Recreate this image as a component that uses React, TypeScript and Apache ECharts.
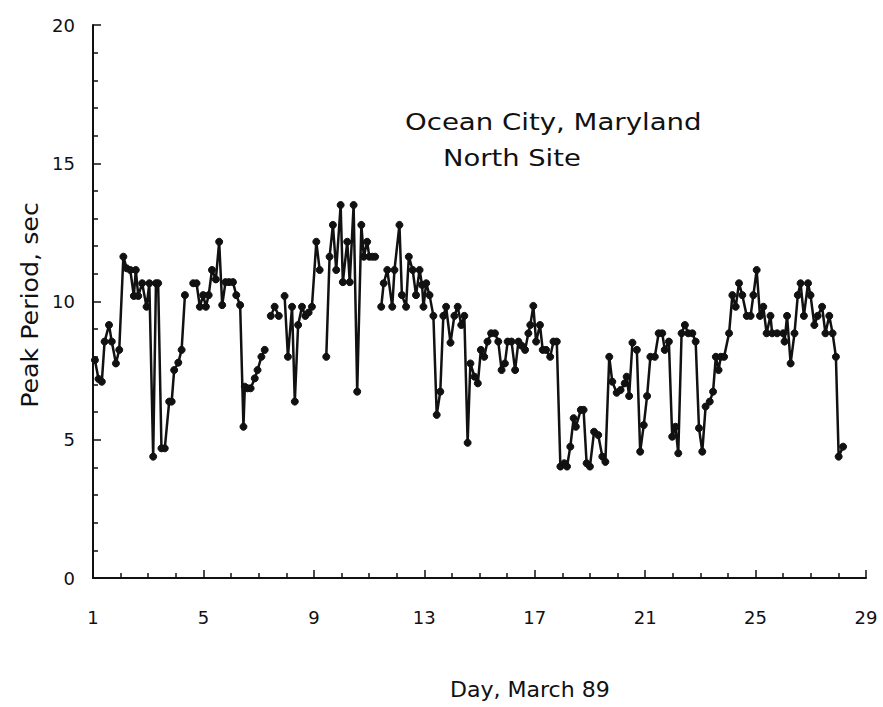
import React, { useEffect, useRef } from "react";
import * as echarts from "echarts";

// Day of March 1989 (null period = gap in the record)
const days = [
  1.07, 1.2, 1.32, 1.42, 1.58, 1.68, 1.83, 1.95, 2.1, 2.22, 2.35, 2.48, 2.55, 2.64, 2.78, 2.94, 3.04, 3.18, 3.28, 3.36, 3.48, 3.6, 3.76, 3.85, 3.94, 4.09, 4.21, 4.33,
  4.5,
  4.63, 4.75, 4.87, 4.99, 5.09, 5.19, 5.31, 5.45, 5.57, 5.68, 5.8, 5.93, 6.07, 6.19, 6.33, 6.45, 6.5, 6.6, 6.71, 6.86, 6.96, 7.1, 7.22,
  7.33,
  7.44, 7.58, 7.73,
  7.85,
  7.94, 8.06, 8.21, 8.31, 8.43, 8.57, 8.69, 8.81, 8.93, 9.09, 9.21,
  9.33,
  9.45, 9.57, 9.69, 9.81, 9.97, 10.05, 10.21, 10.3, 10.44, 10.57, 10.72, 10.81, 10.93, 11.01, 11.12, 11.22,
  11.33,
  11.44, 11.53, 11.66, 11.84, 11.92, 12.1, 12.19, 12.34, 12.44, 12.58, 12.7, 12.83, 12.92, 12.97, 13.07, 13.19, 13.33, 13.45, 13.58, 13.69, 13.79, 13.95,
  14.09, 14.21, 14.34, 14.45, 14.57, 14.67, 14.82, 14.94, 15.05, 15.17, 15.29, 15.42, 15.56, 15.68, 15.8, 15.92, 16.02, 16.16, 16.29, 16.41, 16.53, 16.65,
  16.77, 16.84, 16.95, 17.05, 17.19, 17.29, 17.41, 17.56, 17.68, 17.8, 17.93, 18.07, 18.17, 18.29, 18.41, 18.49, 18.67, 18.77, 18.88, 19.0, 19.15, 19.3,
  19.45, 19.56, 19.7, 19.81, 19.97, 20.11, 20.26, 20.33, 20.42, 20.54,
  20.62,
  20.7, 20.82, 20.95, 21.07, 21.19, 21.35, 21.49, 21.62, 21.71, 21.86, 21.98, 22.1, 22.2, 22.32, 22.44, 22.56, 22.71, 22.83, 22.95, 23.07, 23.19, 23.34,
  23.46, 23.56, 23.66, 23.74, 23.86, 24.04, 24.16, 24.28, 24.4, 24.52, 24.68, 24.82, 24.92, 25.04, 25.16, 25.28, 25.4, 25.54, 25.6, 25.78, 26.0, 26.05,
  26.14, 26.27, 26.41, 26.53, 26.63, 26.75, 26.9, 26.99, 27.13, 27.25, 27.41, 27.53, 27.67, 27.79, 27.91, 28.01, 28.17,
];

// Peak period, sec
const peakPeriod: (number | null)[] = [
  7.88, 7.2, 7.1, 8.55, 9.15, 8.55, 7.76, 8.25, 11.62, 11.2, 11.14, 10.2, 11.14, 10.2, 10.66, 9.81, 10.66, 4.39, 10.66, 10.66, 4.69, 4.69, 6.38, 6.38, 7.52, 7.79, 8.25, 10.23,
  null,
  10.66, 10.66, 9.81, 10.23, 9.81, 10.23, 11.14, 10.8, 12.16, 9.87, 10.7, 10.7, 10.7, 10.23, 9.87, 5.47, 6.92, 6.86, 6.86, 7.22, 7.52, 8.0, 8.25,
  null,
  9.48, 9.81, 9.48,
  null,
  10.2, 8.0, 9.81, 6.38, 9.15, 9.81, 9.48, 9.6, 9.81, 12.16, 11.14,
  null,
  8.0, 11.62, 12.77, 11.14, 13.49, 10.7, 12.16, 10.7, 13.49, 6.74, 12.77, 11.62, 12.16, 11.62, 11.62, 11.62,
  null,
  9.81, 10.66, 11.14, 9.81, 11.14, 12.77, 10.23, 9.81, 11.62, 11.14, 10.23, 11.14, 10.6, 9.81, 10.66, 10.23, 9.48, 5.9, 6.74, 9.48, 9.81, 8.51,
  9.48, 9.81, 9.15, 9.48, 4.89, 7.76, 7.28, 7.04, 8.25, 8.0, 8.55, 8.85, 8.85, 8.55, 7.52, 7.76, 8.55, 8.55, 7.52, 8.55, 8.4, 8.25,
  8.85, 9.15, 9.84, 8.55, 9.15, 8.25, 8.25, 8.0, 8.55, 8.55, 4.03, 4.15, 4.03, 4.75, 5.78, 5.47, 6.08, 6.08, 4.15, 4.03, 5.29, 5.17,
  4.39, 4.2, 8.0, 7.1, 6.7, 6.8, 7.04, 7.28, 6.58, 8.51,
  null,
  8.25, 4.57, 5.53, 6.58, 8.0, 8.0, 8.85, 8.85, 8.25, 8.55, 5.11, 5.47, 4.51, 8.85, 9.15, 8.85, 8.85, 8.55, 5.42, 4.57, 6.2, 6.38,
  6.74, 8.0, 7.52, 8.0, 8.0, 8.85, 10.23, 9.81, 10.66, 10.23, 9.48, 9.48, 10.23, 11.14, 9.48, 9.81, 8.85, 9.48, 8.85, 8.85, 8.85, 8.55,
  9.48, 7.76, 8.85, 10.23, 10.66, 9.48, 10.66, 10.23, 9.15, 9.48, 9.81, 8.85, 9.48, 8.85, 8.0, 4.39, 4.75,
];

const xTickFirstDay = 1;
const titleLines = ["Ocean City, Maryland", "North Site"];
const xAxisTitle = "Day, March 89";
const yAxisTitle = "Peak Period, sec";

const FONT = "'DejaVu Sans', 'Liberation Sans', sans-serif";
const INK = "#111";

export default function App() {
  const ref = useRef<HTMLDivElement>(null);
  useEffect(() => {
    if (!ref.current) return;
    const chart = echarts.init(ref.current, undefined, { renderer: "svg" });
    const data = days.map((d, i) => [d - xTickFirstDay, peakPeriod[i]]);
    chart.setOption({
      animation: false,
      backgroundColor: "#fff",
      grid: { left: 93, right: 17, top: 25, bottom: 129, containLabel: false },
      xAxis: {
        type: "value",
        min: 0,
        max: 28,
        interval: 4,
        axisLine: { show: true, onZero: false, lineStyle: { color: INK, width: 2 } },
        axisTick: { show: true, inside: true, length: 8, lineStyle: { color: INK, width: 1.5 } },
        minorTick: { show: true, splitNumber: 4, length: 5, lineStyle: { color: INK, width: 1.5 } },
        splitLine: { show: false },
        axisLabel: {
          margin: 30,
          color: INK,
          fontFamily: FONT,
          fontSize: 18,
          formatter: (v: number) => String(v + xTickFirstDay),
        },
      },
      yAxis: {
        type: "value",
        min: 0,
        max: 20,
        interval: 5,
        axisLine: { show: true, onZero: false, lineStyle: { color: INK, width: 2 } },
        axisTick: { show: true, inside: true, length: 8, lineStyle: { color: INK, width: 1.5 } },
        minorTick: { show: true, splitNumber: 5, length: 5, lineStyle: { color: INK, width: 1.5 } },
        splitLine: { show: false },
        axisLabel: { margin: 18, color: INK, fontFamily: FONT, fontSize: 18 },
      },
      series: [
        {
          type: "line",
          data,
          connectNulls: false,
          symbol: "circle",
          symbolSize: 7,
          showSymbol: true,
          lineStyle: { color: INK, width: 2.5 },
          itemStyle: { color: INK, borderColor: INK },
        },
      ],
      graphic: [
        {
          type: "text",
          x: 405,
          y: 122,
          scaleX: 1.2,
          style: { text: titleLines[0], font: `23px ${FONT}`, fill: INK, verticalAlign: "middle" },
        },
        {
          type: "text",
          x: 443,
          y: 158,
          scaleX: 1.19,
          style: { text: titleLines[1], font: `23px ${FONT}`, fill: INK, verticalAlign: "middle" },
        },
        {
          type: "text",
          x: 450,
          y: 690,
          scaleX: 1.05,
          style: { text: xAxisTitle, font: `21px ${FONT}`, fill: INK, verticalAlign: "middle" },
        },
        {
          type: "text",
          x: 30,
          y: 305,
          rotation: Math.PI / 2,
          scaleX: 1.1,
          style: {
            text: yAxisTitle,
            font: `23px ${FONT}`,
            fill: INK,
            align: "center",
            verticalAlign: "middle",
          },
        },
      ],
    });
    return () => chart.dispose();
  }, []);
  return (
    <div
      ref={ref}
      style={{ position: "fixed", left: 0, top: 0, width: 883, height: 707, background: "#fff" }}
    />
  );
}
